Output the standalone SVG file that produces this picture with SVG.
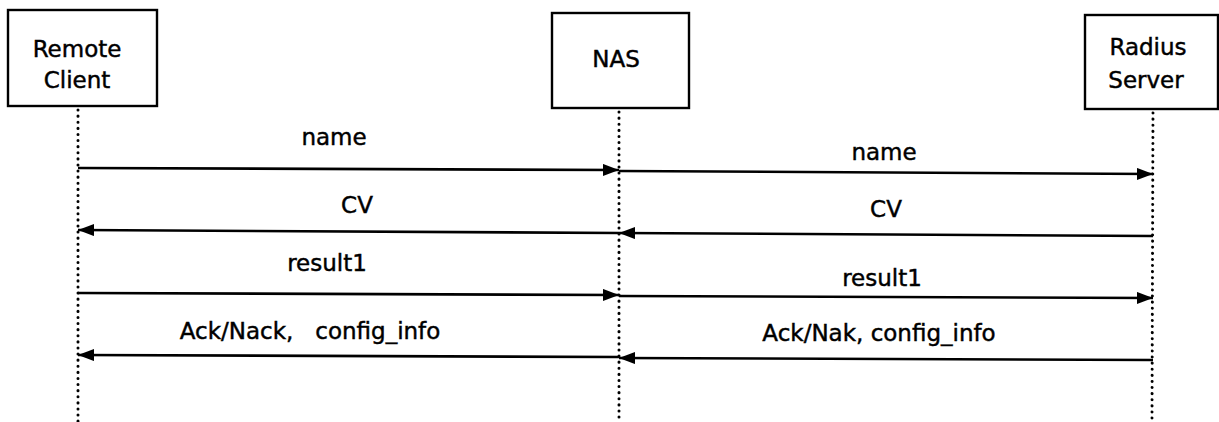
<svg xmlns="http://www.w3.org/2000/svg" width="1219" height="422" viewBox="0 0 1219 422">
<style>
.box{fill:#fff;stroke:#000;stroke-width:2.4}
.t{font-family:"DejaVu Sans",sans-serif;font-size:23px;fill:#000;stroke:#000;stroke-width:0.45;text-anchor:middle}
.life{stroke:#000;stroke-width:3;stroke-linecap:round;stroke-dasharray:0.1 6;fill:none}
.msg{stroke:#000;stroke-width:2.6;fill:none}
</style>
<defs>
<marker id="ah" viewBox="0 0 16 12" refX="16" refY="6" markerWidth="16" markerHeight="12" markerUnits="userSpaceOnUse" orient="auto">
<path d="M0,0 L16,6 L0,12 Z" fill="#000"/>
</marker>
</defs>
<rect width="1219" height="422" fill="#fff"/>
<g id="lifelines">
<line class="life" x1="78" y1="110" x2="78" y2="422"/>
<line class="life" x1="619" y1="112" x2="619" y2="422"/>
<line class="life" x1="1153" y1="113" x2="1152" y2="422"/>
</g>
<g id="remote-client">
<rect class="box" x="8" y="10" width="149" height="96"/>
<text class="t" x="77" y="57">Remote</text>
<text class="t" x="77" y="88">Client</text>
</g>
<g id="nas">
<rect class="box" x="552" y="13" width="137" height="95"/>
<text class="t" x="616" y="67">NAS</text>
</g>
<g id="radius-server">
<rect class="box" x="1085" y="15" width="133" height="94"/>
<text class="t" x="1148" y="55">Radius</text>
<text class="t" x="1146" y="88">Server</text>
</g>
<g id="connectors">
<line class="msg" x1="78" y1="168" x2="619" y2="170" marker-end="url(#ah)"/>
<line class="msg" x1="619" y1="171" x2="1153" y2="174" marker-end="url(#ah)"/>
<line class="msg" x1="1153" y1="236" x2="619" y2="233" marker-end="url(#ah)"/>
<line class="msg" x1="619" y1="233" x2="78" y2="230" marker-end="url(#ah)"/>
<line class="msg" x1="78" y1="293" x2="619" y2="295" marker-end="url(#ah)"/>
<line class="msg" x1="619" y1="296" x2="1153" y2="298" marker-end="url(#ah)"/>
<line class="msg" x1="1153" y1="360" x2="619" y2="358" marker-end="url(#ah)"/>
<line class="msg" x1="619" y1="357" x2="78" y2="355" marker-end="url(#ah)"/>
</g>
<g id="labels">
<text class="t" x="334" y="145">name</text>
<text class="t" x="884" y="160">name</text>
<text class="t" x="357" y="213">CV</text>
<text class="t" x="886" y="217">CV</text>
<text class="t" x="327" y="271">result1</text>
<text class="t" x="882" y="286">result1</text>
<text class="t" x="310" y="339" xml:space="preserve">Ack/Nack,   config_info</text>
<text class="t" x="879" y="341">Ack/Nak, config_info</text>
</g>
</svg>
